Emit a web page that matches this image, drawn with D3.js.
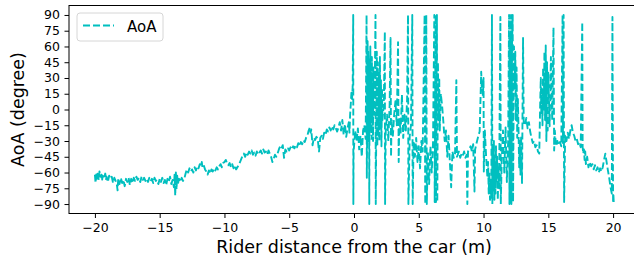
<!DOCTYPE html>
<html lang="en">
<head>
  <meta charset="UTF-8">
  <title>AoA vs rider distance</title>
  <style>
    body {
      margin: 0;
      background: #fff;
      font-family: "DejaVu Sans", sans-serif;
    }
    svg {
      display: block;
    }
    .axis text {
      font-family: "DejaVu Sans", sans-serif;
      font-size: 12.5px;
      fill: #000;
    }
    .axis line, .axis path {
      stroke: #000;
      stroke-width: 1px;
    }
    .axis-label {
      font-family: "DejaVu Sans", sans-serif;
      font-size: 17.5px;
      fill: #000;
    }
    .aoa-line {
      fill: none;
      stroke: #00bfbf;
      stroke-width: 1.9px;
      stroke-dasharray: 7 3;
      stroke-linejoin: round;
    }
  </style>
</head>
<body>
  <svg id="chart"></svg>

  <script src="https://cdn.jsdelivr.net/npm/d3@7"></script>
  <script>
    // --- data: [distance (m), AoA (deg)] ---
    // rider behind the car, far away
    const approachFar = [
      [-20.0,-62],[-19.95,-70],[-19.9,-60],[-19.85,-66],[-19.8,-61],[-19.7,-67],[-19.65,-59],[-19.6,-64],
      [-19.5,-62],[-19.45,-68],[-19.4,-63],[-19.3,-66],[-19.2,-61],[-19.15,-67],[-19.1,-64],[-19.0,-69],
      [-18.9,-63],[-18.8,-66],[-18.7,-64],[-18.6,-70],[-18.5,-65],[-18.4,-68],[-18.3,-72],[-18.25,-77],
      [-18.2,-66],[-18.1,-71],[-18.0,-65],[-17.9,-70],[-17.8,-67],[-17.7,-73],[-17.6,-66],[-17.5,-69],
      [-17.4,-65],[-17.3,-72],[-17.2,-66],[-17.1,-70],[-17.0,-65],[-16.9,-68],[-16.8,-64],[-16.7,-67],
      [-16.6,-65],[-16.5,-69],[-16.4,-64],[-16.3,-67],[-16.2,-65],[-16.1,-68],[-16.0,-66],[-15.9,-69],
      [-15.8,-65],[-15.7,-68],[-15.6,-66],[-15.5,-70],[-15.4,-65],[-15.3,-68],[-15.2,-67],[-15.1,-71],
      [-15.0,-66],[-14.9,-69],[-14.8,-65],[-14.7,-70],[-14.6,-67],[-14.5,-72],[-14.4,-66],[-14.3,-69],
      [-14.2,-64],[-14.1,-71],[-14.0,-67],[-13.9,-74],[-13.85,-62],[-13.8,-82],[-13.75,-60],[-13.7,-76],
      [-13.65,-63],[-13.6,-71],[-13.5,-66],[-13.4,-69],[-13.3,-65],[-13.2,-68],[-13.1,-66]
    ];

    // rider closing in
    const approachNear = [
      [-13.0,-61],[-12.9,-57],[-12.8,-60],[-12.7,-56],[-12.6,-59],[-12.5,-57],[-12.4,-60],[-12.3,-55],
      [-12.2,-58],[-12.1,-54],[-12.0,-56],[-11.9,-52],[-11.8,-54],[-11.75,-50],[-11.7,-55],[-11.6,-53],
      [-11.5,-57],[-11.4,-59],[-11.3,-62],[-11.2,-58],[-11.1,-61],[-11.0,-57],[-10.9,-59],[-10.8,-56],
      [-10.7,-58],[-10.6,-55],[-10.5,-57],[-10.4,-54],[-10.3,-52],[-10.2,-55],[-10.1,-51],[-10.0,-50],
      [-9.9,-48],[-9.8,-51],[-9.7,-53],[-9.6,-51],[-9.5,-55],[-9.4,-52],[-9.3,-56],[-9.2,-53],
      [-9.1,-57],[-9.0,-55],[-8.9,-53],[-8.8,-50],[-8.7,-47],[-8.6,-44],[-8.5,-42],[-8.4,-45],
      [-8.3,-41],[-8.2,-43],[-8.1,-40],[-8.0,-42],[-7.9,-39],[-7.8,-43],[-7.7,-41],[-7.6,-44],
      [-7.5,-40],[-7.4,-43],[-7.3,-41],[-7.2,-39],[-7.1,-42],[-7.0,-38],[-6.9,-41],[-6.8,-40],
      [-6.7,-43],[-6.6,-39],[-6.5,-42],[-6.4,-45],[-6.3,-50],[-6.2,-47],[-6.1,-43],[-6.0,-45],
      [-5.9,-42],[-5.8,-38],[-5.7,-35],[-5.6,-37],[-5.5,-34],[-5.4,-46],[-5.3,-38],[-5.2,-40],
      [-5.1,-37],[-5.0,-39],[-4.9,-36],[-4.8,-38],[-4.7,-35],[-4.6,-37],[-4.5,-34],[-4.4,-36],
      [-4.3,-32],[-4.2,-35],[-4.1,-31],[-4.0,-33],[-3.9,-29],[-3.8,-31],[-3.7,-27],[-3.6,-25],
      [-3.5,-20],[-3.4,-17],[-3.35,-22],[-3.3,-19],[-3.2,-34],[-3.1,-27],[-3.0,-29],[-2.9,-26],
      [-2.8,-28],[-2.7,-40],[-2.6,-27],[-2.5,-25],[-2.4,-28],[-2.3,-22],[-2.2,-24],[-2.1,-19],
      [-2.0,-21],[-1.9,-17],[-1.8,-20],[-1.7,-16],[-1.6,-19],[-1.5,-15],[-1.4,-18],[-1.3,-21],
      [-1.2,-17],[-1.1,-12],[-1.0,-20],[-0.9,-10],[-0.8,-24],[-0.7,-14],[-0.6,-26],[-0.5,-18],
      [-0.4,-12],[-0.35,-22],[-0.3,-5],[-0.25,5],[-0.2,16],[-0.15,10],[-0.1,22]
    ];

    // passing the car, angle wraps around +-90
    const passingNear = [
      [-0.06,90],[-0.05,-90],[-0.03,-40],[0.1,-20],[0.2,-30],[0.3,-18],[0.4,-38],[0.5,-25],
      [0.6,-45],[0.7,-20],[0.8,-15],[0.9,-28],[0.97,90],[0.99,-65],[1.02,-10],[1.05,65],
      [1.08,-25],[1.1,55],[1.12,-30],[1.15,48],[1.18,-90],[1.2,40],[1.23,-20],[1.26,60],
      [1.29,-15],[1.32,35],[1.35,-28],[1.38,50],[1.41,-10],[1.44,25],[1.47,-30],[1.5,40],
      [1.55,-5],[1.6,20],[1.66,90],[1.68,-90],[1.72,-20],[1.76,55],[1.8,-35],[1.84,45],
      [1.88,-25],[1.92,35],[1.96,-30],[2.0,50],[2.04,-15],[2.08,28],[2.12,-35],[2.16,20],
      [2.2,-10],[2.3,5],[2.38,74],[2.4,-90],[2.45,-20],[2.55,-5],[2.65,-30],[2.75,4],
      [2.82,68],[2.86,-45],[2.9,-10],[3.0,-25],[3.1,-5],[3.2,8],[3.3,-15],[3.4,64],
      [3.45,-50],[3.5,-8],[3.6,-22],[3.7,14],[3.8,-27],[3.9,-5],[4.0,-20],[4.1,10],
      [4.17,90],[4.2,-90],[4.3,-25],[4.4,-15],[4.5,90],[4.53,-90],[4.6,-30],[4.7,-45],
      [4.8,-27],[4.9,-50],[5.0,-35],[5.1,-56],[5.2,-30],[5.3,-40],[5.45,90],[5.5,-90],
      [5.58,90],[5.62,-90],[5.7,-40],[5.8,-71],[5.9,-35],[6.0,-60],[6.1,-32],[6.2,90],
      [6.23,-88],[6.3,90],[6.33,-88],[6.4,90],[6.43,-88],[6.48,45],[6.52,-10],[6.58,30],
      [6.62,-20],[6.7,15],[6.8,4],[6.9,-12],[7.0,-30],[7.1,-20],[7.2,-45],[7.3,-25],
      [7.4,-50],[7.5,-74],[7.6,-40],[7.7,-46],[7.8,-42],[7.9,28],[7.95,-45],[8.1,-40],
      [8.2,-46],[8.3,-42],[8.4,-44],[8.5,-40],[8.6,-46],[8.7,-43],[8.75,-90],[8.8,-40],
      [9.0,-35],[9.1,-40],[9.2,-33],[9.3,-78],[9.35,-38],[9.5,-30],[9.6,-25],[9.7,-21],
      [9.82,36],[9.86,20],[9.9,25],[9.95,12],[10.0,30],[10.02,-59]
    ];

    // rider moving away ahead of the car
    const passingFar = [
      [10.1,-20],[10.2,-45],[10.3,-65],[10.35,-50],[10.4,-80],[10.45,-60],[10.5,-86],[10.55,-70],
      [10.6,-85],[10.65,90],[10.68,-90],[10.72,-40],[10.76,-75],[10.8,-30],[10.84,-86],[10.88,-50],
      [10.92,-80],[10.96,-35],[11.0,-70],[11.05,-45],[11.1,-86],[11.15,-55],[11.2,-75],[11.3,88],
      [11.33,-90],[11.4,-50],[11.5,-20],[11.6,-60],[11.7,-17],[11.8,-69],[11.9,-30],[11.97,90],
      [12.0,-90],[12.05,70],[12.08,-88],[12.12,90],[12.15,-90],[12.2,65],[12.25,90],[12.28,-88],
      [12.35,60],[12.4,20],[12.45,55],[12.5,-10],[12.55,40],[12.6,-27],[12.65,10],[12.7,-20],
      [12.75,-55],[12.8,-30],[12.85,-62],[12.9,-25],[12.97,-70],[13.05,68],[13.1,-12],[13.2,-15],
      [13.3,-8],[13.4,-18],[13.5,-12],[13.6,-21],[13.7,-27],[13.8,-32],[13.9,-30],[14.0,-36],
      [14.1,-34],[14.2,-40],[14.3,-42],[14.38,10],[14.42,30],[14.46,-5],[14.5,20],[14.55,-15],
      [14.6,40],[14.65,0],[14.7,55],[14.75,-10],[14.8,61],[14.85,-30],[14.9,45],[14.95,-20],
      [15.0,35],[15.1,-16],[15.2,50],[15.3,-10],[15.4,78],[15.45,-39],[15.5,-20],[15.6,-35],
      [15.7,-30],[15.8,-34],[15.9,-31],[16.0,-35],[16.1,90],[16.13,-32],[16.18,90],[16.22,-88],
      [16.3,-25],[16.4,-30],[16.5,-22],[16.6,-28],[16.7,-20],[16.8,-15],[16.9,-22],[17.0,-25],
      [17.1,-30],[17.2,-28],[17.3,-33],[17.4,-31],[17.5,-36],[17.62,83],[17.65,-36],[17.7,-42],
      [17.75,-38],[17.8,-48],[17.85,-40],[17.9,-52],[18.0,-45],[18.1,-55],[18.2,-50],[18.3,-54],
      [18.4,-52],[18.5,-57],[18.6,-53],[18.7,-58],[18.8,-55],[18.9,-60],[19.0,-56],[19.1,-59],
      [19.2,-55],[19.3,-48],[19.4,-42],[19.5,-50],[19.6,-58],[19.7,-65],[19.8,-74],[19.9,-80],
      [19.95,88],[20.0,-89],[20.02,-80],[20.05,-88]
    ];

    const xTicks = [-20, -15, -10, -5, 0, 5, 10, 15, 20];
    const yTicks = [-90, -75, -60, -45, -30, -15, 0, 15, 30, 45, 60, 75, 90];
    const seriesName = "AoA";
    const xTitle = "Rider distance from the car (m)";
    const yTitle = "AoA (degree)";

    // --- layout ---
    const width = 634;
    const height = 260;
    const plot = { left: 69, top: 5.5, right: 639, bottom: 213.5 };

    const svg = d3.select("#chart")
      .attr("width", width)
      .attr("height", height);

    const x = d3.scaleLinear().domain([-22, 22]).range([plot.left, plot.right]);
    const y = d3.scaleLinear().domain([-99, 99]).range([plot.bottom, plot.top]);

    const data = approachFar.concat(approachNear, passingNear, passingFar);

    // --- line ---
    const line = d3.line()
      .x(d => x(d[0]))
      .y(d => y(d[1]));

    svg.append("path")
      .datum(data)
      .attr("class", "aoa-line")
      .attr("d", line);

    // --- axes ---
    svg.append("g")
      .attr("class", "axis")
      .attr("transform", `translate(0,${plot.bottom})`)
      .call(d3.axisBottom(x).tickValues(xTicks).tickSize(4.5).tickPadding(5).tickSizeOuter(0))
      .call(g => g.select(".domain").remove());

    svg.append("g")
      .attr("class", "axis")
      .attr("transform", `translate(${plot.left},0)`)
      .call(d3.axisLeft(y).tickValues(yTicks).tickSize(4.5).tickPadding(4.5).tickSizeOuter(0))
      .call(g => g.select(".domain").remove());

    // frame (right edge falls outside the picture)
    svg.append("rect")
      .attr("x", plot.left)
      .attr("y", plot.top)
      .attr("width", plot.right - plot.left)
      .attr("height", plot.bottom - plot.top)
      .attr("fill", "none")
      .attr("stroke", "#000")
      .attr("stroke-width", 1);

    // --- axis titles ---
    svg.append("text")
      .attr("class", "axis-label")
      .attr("x", (plot.left + plot.right) / 2)
      .attr("y", 253)
      .attr("text-anchor", "middle")
      .text(xTitle);

    svg.append("text")
      .attr("class", "axis-label")
      .attr("transform", `translate(24,${(plot.top + plot.bottom) / 2}) rotate(-90)`)
      .attr("text-anchor", "middle")
      .text(yTitle);

    // --- legend ---
    const legend = svg.append("g").attr("transform", "translate(77,13)");
    legend.append("rect")
      .attr("width", 86)
      .attr("height", 28)
      .attr("rx", 3)
      .attr("fill", "#fff")
      .attr("fill-opacity", 0.8)
      .attr("stroke", "#d6d6d6");
    legend.append("line")
      .attr("class", "aoa-line")
      .attr("x1", 6).attr("x2", 37)
      .attr("y1", 12.5).attr("y2", 12.5);
    legend.append("text")
      .attr("x", 50)
      .attr("y", 18.5)
      .attr("font-size", "15px")
      .attr("font-family", "DejaVu Sans, sans-serif")
      .text(seriesName);
  </script>
</body>
</html>
